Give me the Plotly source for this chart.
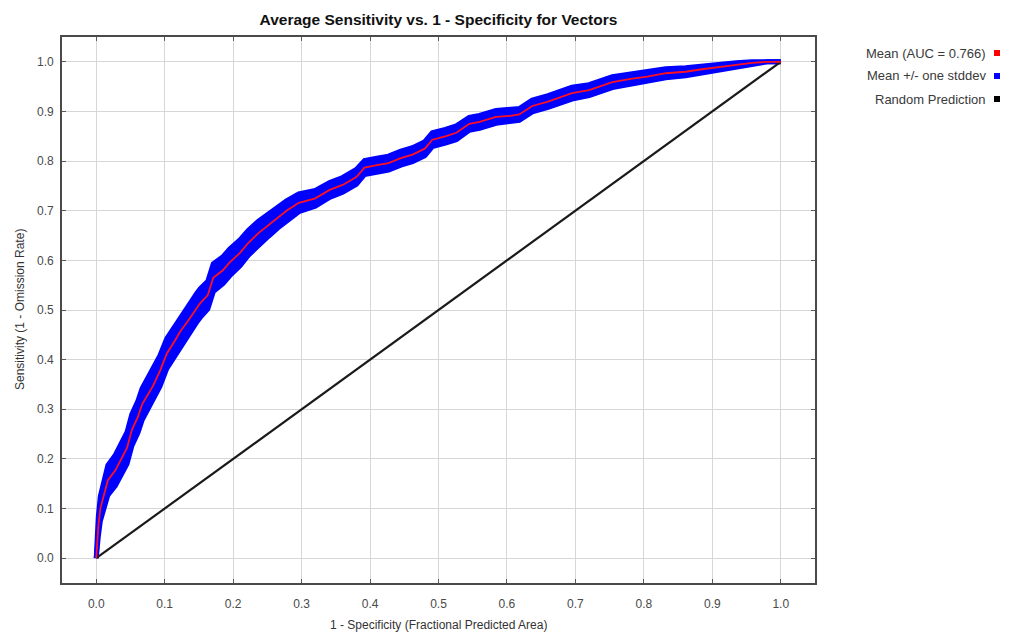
import plotly.graph_objects as go

# 1 - specificity (fractional predicted area)
fpr = [0.000, 0.001, 0.003, 0.006, 0.010, 0.017, 0.028, 0.035, 0.045, 0.052,
       0.061, 0.067, 0.075, 0.083, 0.093, 0.103, 0.118, 0.122, 0.135, 0.147,
       0.152, 0.163, 0.171, 0.185, 0.195, 0.210, 0.222, 0.237, 0.252, 0.265,
       0.278, 0.296, 0.320, 0.341, 0.360, 0.380, 0.392, 0.410, 0.427, 0.445,
       0.462, 0.480, 0.491, 0.510, 0.526, 0.545, 0.560, 0.584, 0.605, 0.618,
       0.637, 0.660, 0.695, 0.720, 0.754, 0.783, 0.805, 0.832, 0.861, 0.885,
       0.910, 0.935, 0.958, 0.980, 1.000]
# mean sensitivity
tpr = [0.000, 0.030, 0.063, 0.100, 0.123, 0.157, 0.177, 0.195, 0.222, 0.258,
       0.285, 0.310, 0.330, 0.347, 0.377, 0.412, 0.445, 0.455, 0.480, 0.505,
       0.514, 0.530, 0.565, 0.580, 0.596, 0.615, 0.635, 0.655, 0.672, 0.686,
       0.700, 0.716, 0.725, 0.742, 0.752, 0.768, 0.787, 0.792, 0.796, 0.806,
       0.813, 0.825, 0.843, 0.850, 0.857, 0.875, 0.879, 0.889, 0.891, 0.894,
       0.911, 0.920, 0.937, 0.943, 0.959, 0.966, 0.970, 0.977, 0.980, 0.985,
       0.990, 0.994, 0.998, 1.000, 1.000]
# standard deviation of sensitivity
tpr_sd = [0.000, 0.012, 0.020, 0.025, 0.028, 0.030, 0.031, 0.032, 0.032, 0.032,
          0.032, 0.032, 0.032, 0.031, 0.031, 0.030, 0.030, 0.030, 0.029, 0.029,
          0.029, 0.028, 0.028, 0.027, 0.027, 0.026, 0.025, 0.024, 0.023, 0.021,
          0.020, 0.018, 0.016, 0.015, 0.015, 0.015, 0.014, 0.014, 0.014, 0.014,
          0.014, 0.014, 0.014, 0.014, 0.014, 0.013, 0.013, 0.013, 0.012, 0.012,
          0.012, 0.012, 0.012, 0.011, 0.011, 0.010, 0.010, 0.009, 0.008, 0.007,
          0.006, 0.004, 0.002, 0.000, 0.000]

random_x = [0.0, 1.0]
random_y = [0.0, 1.0]
ticks = [round(i * 0.1, 1) for i in range(11)]
tick_text = [f"{t:.1f}" for t in ticks]
auc = 0.766

upper = [m + s for m, s in zip(tpr, tpr_sd)]
lower = [m - s for m, s in zip(tpr, tpr_sd)]

BLUE = "#0000ff"
RED = "#ff1020"
FONT = "Liberation Sans, Arial, sans-serif"

fig = go.Figure()
fig.add_trace(go.Scatter(x=fpr, y=lower, mode="lines",
                         line=dict(color=BLUE, width=5), showlegend=False,
                         hoverinfo="skip"))
fig.add_trace(go.Scatter(x=fpr, y=upper, mode="lines",
                         line=dict(color=BLUE, width=5), fill="tonexty",
                         fillcolor=BLUE, showlegend=False, hoverinfo="skip"))
fig.add_trace(go.Scatter(x=random_x, y=random_y, mode="lines",
                         line=dict(color="#1a1a1a", width=2.2), showlegend=False))
fig.add_trace(go.Scatter(x=fpr, y=tpr, mode="lines",
                         line=dict(color=RED, width=1.8), showlegend=False))

axis_common = dict(
    range=[-0.05, 1.05], tickvals=ticks, ticktext=tick_text,
    showgrid=True, gridcolor="#d6d6d6", gridwidth=1,
    zeroline=False, showline=True, linecolor="#4a4a4a", linewidth=1.6,
    mirror="ticks", ticks="inside", ticklen=4, tickcolor="#5a5a5a",
    tickwidth=1, tickfont=dict(family=FONT, size=12, color="#4a4a4a"),
    automargin=False,
)
fig.update_xaxes(**axis_common, ticklabelstandoff=9)
fig.update_yaxes(**axis_common, ticklabelstandoff=4)

legend_items = [(f"Mean (AUC = {auc})", "#ff0000"),
                ("Mean +/- one stddev", BLUE),
                ("Random Prediction", "#000000")]
plot_w, plot_h = 753, 546
row_px = [53, 76, 99]
annotations = []
shapes = []
for (label, col), ypx in zip(legend_items, row_px):
    yp = (583 - ypx) / plot_h
    annotations.append(dict(xref="paper", yref="paper", x=(988 - 62) / plot_w, y=yp,
                            xanchor="right", yanchor="middle", showarrow=False,
                            text=label,
                            font=dict(family=FONT, size=13, color="#3a3a3a")))
    shapes.append(dict(type="rect", xref="paper", yref="paper",
                       x0=(994 - 62) / plot_w, x1=(1000 - 62) / plot_w,
                       y0=(583 - ypx - 3) / plot_h, y1=(583 - ypx + 3) / plot_h,
                       fillcolor=col, line=dict(width=0)))

# axis titles placed at the reference positions
annotations.append(dict(xref="paper", yref="paper", x=0.5, y=(583 - 625) / plot_h,
                        xanchor="center", yanchor="middle", showarrow=False,
                        text="1 - Specificity (Fractional Predicted Area)",
                        font=dict(family=FONT, size=12, color="#333333")))
annotations.append(dict(xref="paper", yref="paper", x=(20 - 62) / plot_w, y=0.5,
                        xanchor="center", yanchor="middle", showarrow=False,
                        textangle=-90,
                        text="Sensitivity (1 - Omission Rate)",
                        font=dict(family=FONT, size=12, color="#333333")))

fig.update_layout(
    width=1010, height=637,
    margin=dict(l=62, r=195, t=37, b=54),
    paper_bgcolor="white", plot_bgcolor="white",
    title=dict(text="<b>Average Sensitivity vs. 1 - Specificity for Vectors</b>",
               x=0.5, xref="paper", xanchor="center",
               y=1 - 20 / 637, yref="container", yanchor="middle",
               font=dict(family=FONT, size=15.5, color="#111111")),
    annotations=annotations, shapes=shapes,
)

fig.write_html("out.html", config={"displayModeBar": False},
               post_script="document.body.style.margin='0';"
                           "document.body.style.overflow='hidden';")
